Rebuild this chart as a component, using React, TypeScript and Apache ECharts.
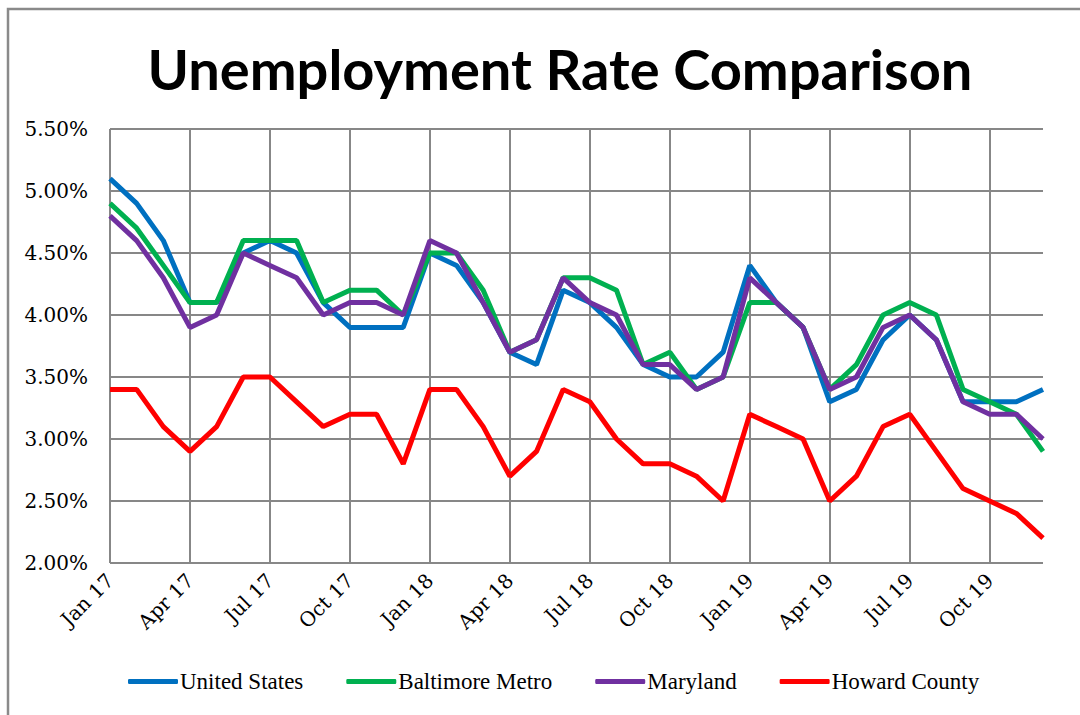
import React, { useEffect, useRef } from "react";
import * as echarts from "echarts";

const months: string[] = [
  "Jan 17", "Feb 17", "Mar 17", "Apr 17", "May 17", "Jun 17", "Jul 17", "Aug 17", "Sep 17", "Oct 17", "Nov 17", "Dec 17",
  "Jan 18", "Feb 18", "Mar 18", "Apr 18", "May 18", "Jun 18", "Jul 18", "Aug 18", "Sep 18", "Oct 18", "Nov 18", "Dec 18",
  "Jan 19", "Feb 19", "Mar 19", "Apr 19", "May 19", "Jun 19", "Jul 19", "Aug 19", "Sep 19", "Oct 19", "Nov 19", "Dec 19",
];

const unitedStates: number[] = [
  5.1, 4.9, 4.6, 4.1, 4.1, 4.5, 4.6, 4.5, 4.1, 3.9, 3.9, 3.9,
  4.5, 4.4, 4.1, 3.7, 3.6, 4.2, 4.1, 3.9, 3.6, 3.5, 3.5, 3.7,
  4.4, 4.1, 3.9, 3.3, 3.4, 3.8, 4.0, 3.8, 3.3, 3.3, 3.3, 3.4,
];

const baltimoreMetro: number[] = [
  4.9, 4.7, 4.4, 4.1, 4.1, 4.6, 4.6, 4.6, 4.1, 4.2, 4.2, 4.0,
  4.5, 4.5, 4.2, 3.7, 3.8, 4.3, 4.3, 4.2, 3.6, 3.7, 3.4, 3.5,
  4.1, 4.1, 3.9, 3.4, 3.6, 4.0, 4.1, 4.0, 3.4, 3.3, 3.2, 2.9,
];

const maryland: number[] = [
  4.8, 4.6, 4.3, 3.9, 4.0, 4.5, 4.4, 4.3, 4.0, 4.1, 4.1, 4.0,
  4.6, 4.5, 4.1, 3.7, 3.8, 4.3, 4.1, 4.0, 3.6, 3.6, 3.4, 3.5,
  4.3, 4.1, 3.9, 3.4, 3.5, 3.9, 4.0, 3.8, 3.3, 3.2, 3.2, 3.0,
];

const howardCounty: number[] = [
  3.4, 3.4, 3.1, 2.9, 3.1, 3.5, 3.5, 3.3, 3.1, 3.2, 3.2, 2.8,
  3.4, 3.4, 3.1, 2.7, 2.9, 3.4, 3.3, 3.0, 2.8, 2.8, 2.7, 2.5,
  3.2, 3.1, 3.0, 2.5, 2.7, 3.1, 3.2, 2.9, 2.6, 2.5, 2.4, 2.2,
];

const seriesNames: string[] = ["United States", "Baltimore Metro", "Maryland", "Howard County"];
const seriesColors: string[] = ["#0070C0", "#00B050", "#7030A0", "#FF0000"];

export default function App() {
  const ref = useRef<HTMLDivElement>(null);

  useEffect(() => {
    if (!ref.current) return;
    const chart = echarts.init(ref.current, null, { renderer: "svg" });
    const dataSets = [unitedStates, baltimoreMetro, maryland, howardCounty];
    const gridColor = "#878787";
    chart.setOption({
      animation: false,
      backgroundColor: "#ffffff",
      graphic: [
        {
          type: "rect",
          shape: { x: 8, y: 9, width: 1100, height: 730 },
          style: { fill: "none", stroke: "#8a8a8a", lineWidth: 2.5 },
          silent: true,
        },
        {
          type: "text",
          x: 560,
          y: 68,
          style: {
            text: "Unemployment Rate Comparison",
            font: "bold 56px Lato, 'Open Sans', sans-serif",
            fill: "#000000",
            textAlign: "center",
            textVerticalAlign: "middle",
          },
        },
      ],
      legend: {
        data: seriesNames,
        bottom: 17,
        left: 123,
        icon: "roundRect",
        itemWidth: 50,
        itemHeight: 5,
        itemGap: 43,
        textStyle: {
          fontFamily: "'Liberation Serif', serif",
          fontSize: 23,
          color: "#000000",
          padding: [0, 0, 0, -3],
        },
      },
      grid: { left: 110, right: 37, top: 129, bottom: 152, containLabel: false },
      xAxis: {
        type: "category",
        data: months,
        boundaryGap: false,
        axisLine: { show: false },
        axisTick: { show: false },
        axisLabel: {
          interval: 2,
          rotate: 45,
          margin: 14,
          fontFamily: "'DejaVu Serif', serif",
          fontSize: 20,
          color: "#000000",
        },
        splitLine: {
          show: true,
          interval: 2,
          lineStyle: { color: gridColor, width: 2 },
        },
      },
      yAxis: {
        type: "value",
        min: 2,
        max: 5.5,
        interval: 0.5,
        axisLine: { show: false },
        axisTick: { show: false },
        axisLabel: {
          margin: 22,
          fontFamily: "'DejaVu Serif', serif",
          fontSize: 20,
          color: "#000000",
          formatter: (v: number) => v.toFixed(2) + "%",
        },
        splitLine: { show: true, lineStyle: { color: gridColor, width: 2 } },
      },
      series: seriesNames.map((name, i) => ({
        name,
        type: "line",
        data: dataSets[i],
        symbol: "none",
        color: seriesColors[i],
        lineStyle: { color: seriesColors[i], width: 5 },
        z: 2 + i,
      })),
    });
    return () => chart.dispose();
  }, []);

  return (
    <div
      ref={ref}
      style={{ position: "fixed", left: 0, top: 0, width: 1080, height: 715, background: "#fff" }}
    />
  );
}
